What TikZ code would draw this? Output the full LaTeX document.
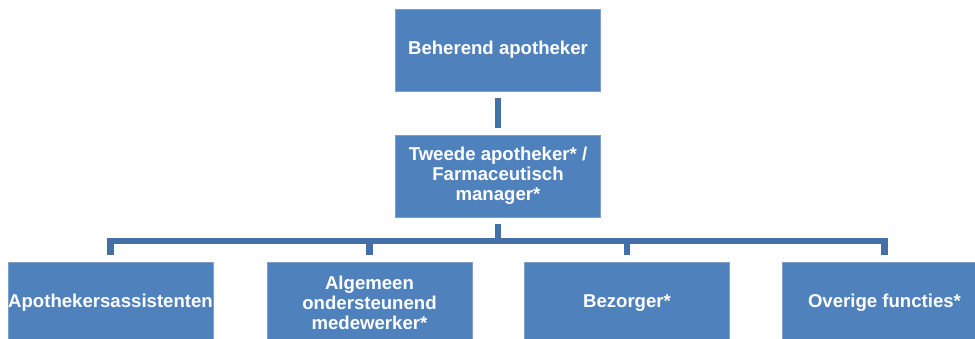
\documentclass[tikz,border=0pt]{standalone}
\usepackage{xcolor}
\usepackage{fontspec}
\setmainfont{Liberation Sans}
\usepackage{tikz}
\usetikzlibrary{calc}
\usetikzlibrary{positioning}
\definecolor{boxblue}{HTML}{4F81BD}
\definecolor{edgeblue}{HTML}{7D9FCB}
\definecolor{linkblue}{HTML}{4470A8}
\tikzset{orgbox/.style={fill=boxblue, draw=edgeblue, line width=.8pt, minimum width=205, minimum height=82, inner sep=0, align=center, text=white, font=\fontsize{18.6}{20}\selectfont\bfseries}}
\tikzset{link/.style={linkblue, line width=6.5pt, line join=miter, shorten <=6.5pt, shorten >=6.5pt}}

\begin{document}
\begin{tikzpicture}[x=1pt,y=1pt]
\useasboundingbox (0,0) rectangle (975,339);
\clip (0,0) rectangle (975,339);
\node[orgbox] (chief) at (498,289) {Beherend apotheker};
\node[orgbox] (manager) at (498,163) {Tweede apotheker* /\\Farmaceutisch\\manager*};
\node[orgbox] (assist) at (110.5,36) {Apothekersassistenten};
\node[orgbox] (support) at (369.5,36) {Algemeen\\ondersteunend\\medewerker*};
\node[orgbox] (courier) at (627,36) {Bezorger*};
\node[orgbox] (other) at (884.5,36) {Overige functies*};
\draw[link] (chief) -- (manager);
\foreach \n in {assist,support,courier,other} {
 \draw[link] (manager.south) --++(0,-23.5) -| (\n.north);
}
\end{tikzpicture}
\end{document}
